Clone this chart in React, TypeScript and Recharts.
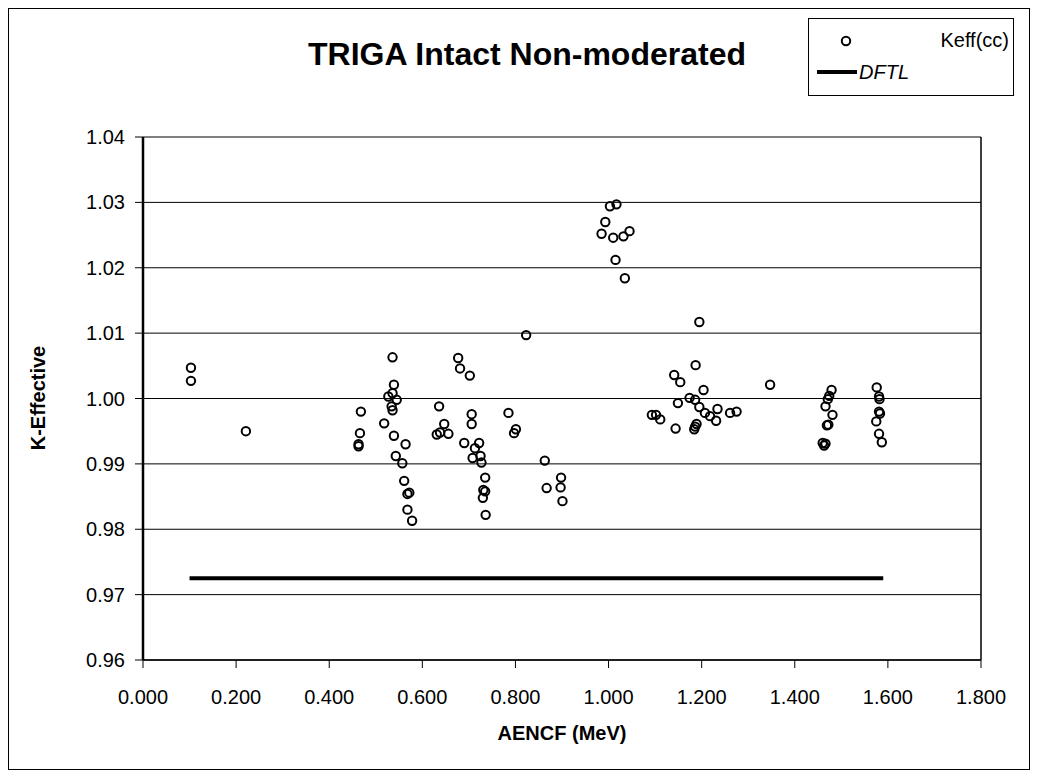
import React from 'react';
import { ScatterChart, Scatter, XAxis, YAxis, CartesianGrid, ReferenceLine } from 'recharts';

const keffX = [
  0.103, 0.103, 0.221, 0.468, 0.466, 0.463, 0.463, 0.536, 0.539, 0.536,
  0.527, 0.545, 0.534, 0.536, 0.518, 0.539, 0.564, 0.543, 0.557, 0.561,
  0.572, 0.568, 0.568, 0.578, 0.677, 0.681, 0.702, 0.636, 0.647, 0.631,
  0.638, 0.656, 0.706, 0.706, 0.690, 0.722, 0.713, 0.725, 0.708, 0.727,
  0.735, 0.731, 0.735, 0.730, 0.736, 0.785, 0.801, 0.797, 0.823, 0.863,
  0.867, 0.898, 0.897, 0.901,
  0.993, 0.985, 1.003, 1.017, 1.010, 1.032, 1.045, 1.015, 1.035,
  1.093, 1.102, 1.111, 1.141, 1.154, 1.149, 1.144, 1.174, 1.186, 1.187,
  1.195, 1.195, 1.204, 1.207, 1.218, 1.234, 1.231, 1.261, 1.275, 1.186,
  1.189, 1.184, 1.347,
  1.479, 1.474, 1.471, 1.466, 1.481, 1.472, 1.469, 1.460, 1.463, 1.466,
  1.576, 1.581, 1.582, 1.581, 1.583, 1.575, 1.581, 1.587,
];

const keffY = [
  1.0047, 1.0027, 0.9950, 0.9980, 0.9947, 0.9930, 0.9927, 1.0063, 1.0021, 1.0008,
  1.0003, 0.9998, 0.9988, 0.9982, 0.9962, 0.9943, 0.9930, 0.9912, 0.9901, 0.9874,
  0.9856, 0.9854, 0.9830, 0.9813, 1.0062, 1.0046, 1.0035, 0.9988, 0.9961, 0.9945,
  0.9948, 0.9946, 0.9976, 0.9961, 0.9932, 0.9932, 0.9924, 0.9912, 0.9909, 0.9902,
  0.9879, 0.9860, 0.9858, 0.9848, 0.9822, 0.9978, 0.9953, 0.9947, 1.0097, 0.9905,
  0.9863, 0.9879, 0.9864, 0.9843,
  1.0270, 1.0252, 1.0294, 1.0297, 1.0246, 1.0248, 1.0256, 1.0212, 1.0184,
  0.9975, 0.9975, 0.9968, 1.0036, 1.0025, 0.9993, 0.9954, 1.0001, 0.9998, 1.0051,
  1.0117, 0.9987, 1.0013, 0.9978, 0.9973, 0.9984, 0.9966, 0.9978, 0.9980, 0.9957,
  0.9961, 0.9953, 1.0021,
  1.0013, 1.0004, 0.9999, 0.9988, 0.9975, 0.9960, 0.9959, 0.9932, 0.9928, 0.9931,
  1.0017, 1.0003, 0.9999, 0.9980, 0.9977, 0.9965, 0.9946, 0.9933,
];

const dftlX = [0.1, 1.59];
const dftlY = [0.9725, 0.9725];

const xTicks = [0, 0.2, 0.4, 0.6, 0.8, 1.0, 1.2, 1.4, 1.6, 1.8];
const yTicks = [0.96, 0.97, 0.98, 0.99, 1.0, 1.01, 1.02, 1.03, 1.04];

const keffData = keffX.map((x, i) => ({ x, y: keffY[i] }));
const dftlData = dftlX.map((x, i) => ({ x, y: dftlY[i] }));

const FONT = '"Liberation Sans", Arial, sans-serif';

const HollowCircle = (props: any) => {
  const { cx, cy } = props;
  if (cx == null || cy == null) return <g />;
  return <circle cx={cx} cy={cy} r={4.2} fill="none" stroke="#000" strokeWidth={2} />;
};

const NoShape = () => <g />;

export default function App() {
  return (
    <div
      style={{
        position: 'relative',
        width: 1022,
        height: 762,
        border: '1px solid #000',
        boxSizing: 'border-box',
        background: '#fff',
        fontFamily: FONT,
      }}
    >
      <ScatterChart
        width={1020}
        height={758}
        margin={{ top: 128, right: 48, bottom: 0, left: 0 }}
      >
        <CartesianGrid horizontal vertical={false} stroke="#000" strokeWidth={1} />
        <XAxis
          type="number"
          dataKey="x"
          domain={[0, 1.8]}
          ticks={xTicks}
          interval={0}
          allowDataOverflow
          tickFormatter={(v: number) => v.toFixed(3)}
          height={107}
          tickSize={8}
          tickMargin={22}
          axisLine={{ stroke: '#000', strokeWidth: 1.5 }}
          tickLine={{ stroke: '#000' }}
          tick={{ fill: '#000', fontSize: 20, fontFamily: FONT }}
        />
        <YAxis
          type="number"
          dataKey="y"
          domain={[0.96, 1.04]}
          ticks={yTicks}
          interval={0}
          allowDataOverflow
          tickFormatter={(v: number) => v.toFixed(2)}
          width={134}
          tickSize={8}
          tickMargin={10}
          axisLine={{ stroke: '#000', strokeWidth: 2.5 }}
          tickLine={{ stroke: '#000' }}
          tick={{ fill: '#000', fontSize: 20, fontFamily: FONT }}
        />
        <ReferenceLine x={1.8} stroke="#000" strokeWidth={1.5} ifOverflow="extendDomain" />
        <Scatter
          name="Keff(cc)"
          data={keffData}
          shape={HollowCircle}
          isAnimationActive={false}
        />
        <Scatter
          name="DFTL"
          data={dftlData}
          line={{ stroke: '#000', strokeWidth: 4 }}
          shape={NoShape}
          isAnimationActive={false}
        />
      </ScatterChart>

      <div
        style={{
          position: 'absolute',
          left: 218,
          width: 600,
          top: 27,
          textAlign: 'center',
          fontWeight: 'bold',
          fontSize: 32,
          lineHeight: '36px',
        }}
      >
        TRIGA Intact Non-moderated
      </div>

      <div
        style={{
          position: 'absolute',
          left: 799,
          top: 9,
          width: 206,
          height: 78,
          border: '1px solid #000',
          boxSizing: 'border-box',
          background: '#fff',
          fontSize: 20,
        }}
      >
        <svg width={40} height={20} style={{ position: 'absolute', left: 20, top: 12 }}>
          <circle cx={17} cy={10} r={4.2} fill="none" stroke="#000" strokeWidth={2} />
        </svg>
        <div style={{ position: 'absolute', right: 4, top: 10, lineHeight: '22px' }}>Keff(cc)</div>
        <svg width={44} height={10} style={{ position: 'absolute', left: 6, top: 48 }}>
          <line x1={2} y1={5} x2={42} y2={5} stroke="#000" strokeWidth={4} />
        </svg>
        <div
          style={{ position: 'absolute', left: 50, top: 42, lineHeight: '22px', fontStyle: 'italic' }}
        >
          DFTL
        </div>
      </div>

      <div
        style={{
          position: 'absolute',
          left: 29 - 100,
          top: 389 - 12,
          width: 200,
          height: 24,
          lineHeight: '24px',
          textAlign: 'center',
          fontWeight: 'bold',
          fontSize: 20,
          transform: 'rotate(-90deg)',
        }}
      >
        K-Effective
      </div>

      <div
        style={{
          position: 'absolute',
          left: 553 - 150,
          top: 724 - 12,
          width: 300,
          lineHeight: '24px',
          textAlign: 'center',
          fontWeight: 'bold',
          fontSize: 20,
        }}
      >
        AENCF (MeV)
      </div>
    </div>
  );
}
